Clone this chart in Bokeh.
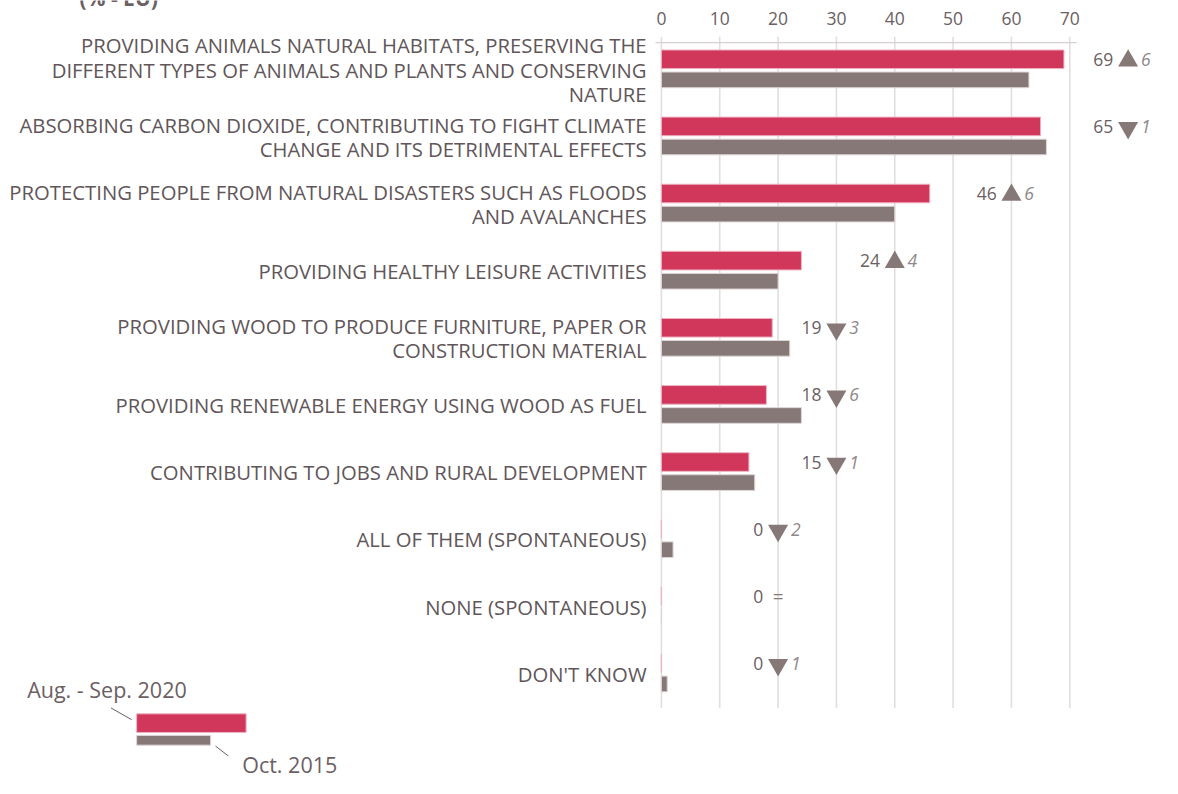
from bokeh.plotting import figure
from bokeh.models import Range1d, ColumnDataSource
from bokeh.core.properties import value
from bokeh.embed import file_html
from bokeh.resources import INLINE
import math

categories = [
    "PROVIDING ANIMALS NATURAL HABITATS, PRESERVING THE\nDIFFERENT TYPES OF ANIMALS AND PLANTS AND CONSERVING\nNATURE",
    "ABSORBING CARBON DIOXIDE, CONTRIBUTING TO FIGHT CLIMATE\nCHANGE AND ITS DETRIMENTAL EFFECTS",
    "PROTECTING PEOPLE FROM NATURAL DISASTERS SUCH AS FLOODS\nAND AVALANCHES",
    "PROVIDING HEALTHY LEISURE ACTIVITIES",
    "PROVIDING WOOD TO PRODUCE FURNITURE, PAPER OR\nCONSTRUCTION MATERIAL",
    "PROVIDING RENEWABLE ENERGY USING WOOD AS FUEL",
    "CONTRIBUTING TO JOBS AND RURAL DEVELOPMENT",
    "ALL OF THEM (SPONTANEOUS)",
    "NONE (SPONTANEOUS)",
    "DON'T KNOW",
]
values_2020 = [69, 65, 46, 24, 19, 18, 15, 0, 0, 0]
values_2015 = [63, 66, 40, 20, 22, 24, 16, 2, 0, 1]
changes = [6, -1, 6, 4, -3, -6, -1, -2, 0, -1]
tick_values = [0, 10, 20, 30, 40, 50, 60, 70]
series_names = ["Aug. - Sep. 2020", "Oct. 2015"]
title_text = "(% - EU)"

W, H = 1162, 778
REF_W, REF_H = 1178, 794
X0_PX = 670          # reference x of value 0
SCALE = 414 / 70     # reference px per unit
ROW0_PX = 70.5       # reference y of first group centre
ROW_STEP = 68.5

def XP(px):
    return (px - X0_PX) / SCALE

def YP(py):
    return (py - ROW0_PX) / ROW_STEP

RED = "#D0375A"
GREY = "#877878"
TXT = "#615659"
NUM = "#6b6063"
DELTA = "#8f8789"
GRID = "#e3dddd"
FONT = "Open Sans"

p = figure(width=W, height=H, output_backend="svg", toolbar_location=None,
           x_range=Range1d(XP(0), XP(REF_W)),
           y_range=Range1d(YP(REF_H), YP(0)),
           min_border=0, outline_line_color=None)
p.xaxis.visible = False
p.yaxis.visible = False
p.grid.visible = False
p.background_fill_color = "white"
p.border_fill_color = "white"

n = len(categories)
rows = list(range(n))

# partially visible title at the very top
p.text(x=[XP(80)], y=[YP(-3)], text=[title_text], text_align="left",
       text_baseline="alphabetic", text_font=value(FONT), text_font_size="21px",
       text_font_style="bold", text_color=NUM)

# grid lines and top axis
p.segment(x0=tick_values, x1=tick_values, y0=[YP(37)] * len(tick_values),
          y1=[YP(722)] * len(tick_values), line_color=GRID, line_width=1.6)
p.segment(x0=[XP(664)], x1=[XP(1091)], y0=[YP(43)], y1=[YP(43)],
          line_color="#d6d0d0", line_width=1.2)
p.text(x=tick_values, y=[YP(18)] * len(tick_values), text=[str(t) for t in tick_values],
       text_align="center", text_baseline="middle", text_font=value(FONT),
       text_font_size="17.5px", text_color=NUM)

red_off = 10.5 / ROW_STEP
grey_off = 10.5 / ROW_STEP
src = ColumnDataSource(dict(
    y_red=[r - red_off for r in rows], y_grey=[r + grey_off for r in rows],
    v20=values_2020, v15=values_2015, cat=categories, yc=rows,
    lx=[XP(655)] * n,
))
p.hbar(y="y_red", left=0, right="v20", height=19 / ROW_STEP, source=src,
       fill_color=RED, line_color="#eeb3c1", line_width=1)
p.hbar(y="y_grey", left=0, right="v15", height=16 / ROW_STEP, source=src,
       fill_color=GREY, line_color="#ddd6d6", line_width=1)

# category labels
p.text(x="lx", y="yc", text="cat", source=src, text_align="right",
       text_baseline="middle", text_font=value(FONT), text_font_size="20.3px",
       text_color=TXT, text_line_height=0.865)

# annotations: value + change marker
tri_x = [(math.floor(v / 10) + 2) * 10 for v in values_2020]
num_x = [t - 15 / SCALE for t in tri_x]
y_red = [r - red_off for r in rows]
p.text(x=num_x, y=y_red, text=[str(v) for v in values_2020], text_align="right",
       text_baseline="middle", text_font=value(FONT), text_font_size="17.5px",
       text_color=NUM)
up_x = [t for t, c in zip(tri_x, changes) if c > 0]
up_y = [y + 1.5 / ROW_STEP for y, c in zip(y_red, changes) if c > 0]
dn_x = [t for t, c in zip(tri_x, changes) if c < 0]
dn_y = [y + 1.5 / ROW_STEP for y, c in zip(y_red, changes) if c < 0]
eq_x = [t for t, c in zip(tri_x, changes) if c == 0]
eq_y = [y for y, c in zip(y_red, changes) if c == 0]
p.scatter(x=up_x, y=up_y, marker="triangle", size=20, fill_color=GREY, line_color=None)
p.scatter(x=dn_x, y=dn_y, marker="inverted_triangle", size=20, fill_color=GREY, line_color=None)
p.text(x=eq_x, y=eq_y, text=["="] * len(eq_x), text_align="center", text_baseline="middle",
       text_font=value(FONT), text_font_size="19px", text_color=GREY)
d_x = [t + 13 / SCALE for t, c in zip(tri_x, changes) if c != 0]
d_y = [y for y, c in zip(y_red, changes) if c != 0]
d_t = [str(abs(c)) for c in changes if c != 0]
p.text(x=d_x, y=d_y, text=d_t, text_align="left", text_baseline="middle",
       text_font=value(FONT), text_font_size="17.5px", text_font_style="italic",
       text_color=DELTA)

# legend
p.quad(left=[XP(138)], right=[XP(249)], top=[YP(728)], bottom=[YP(747)],
       fill_color=RED, line_color="#eeb3c1", line_width=1)
p.quad(left=[XP(138)], right=[XP(213)], top=[YP(750)], bottom=[YP(760)],
       fill_color=GREY, line_color="#ddd6d6", line_width=1)
p.segment(x0=[XP(112), XP(218)], y0=[YP(722), YP(761)], x1=[XP(133), XP(231)],
          y1=[YP(734), YP(771)], line_color=NUM, line_width=1)
p.text(x=[XP(27), XP(245)], y=[YP(703), YP(780)], text=series_names,
       text_align="left", text_baseline="middle", text_font=value(FONT),
       text_font_size="21.5px", text_color=NUM)

open("out.html", "w").write(file_html(p, INLINE))
